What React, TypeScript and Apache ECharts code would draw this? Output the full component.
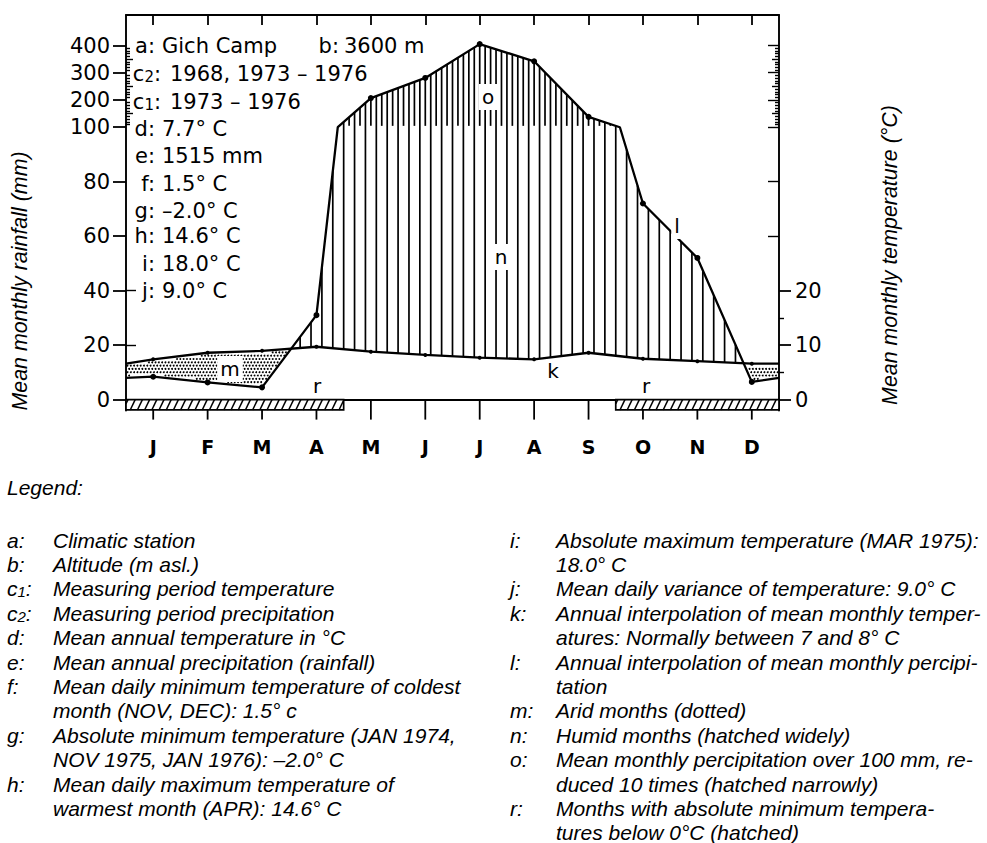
import React, { useEffect, useRef } from 'react';
import * as echarts from 'echarts';

// ---------- values ----------
const months = ['J', 'F', 'M', 'A', 'M', 'J', 'J', 'A', 'S', 'O', 'N', 'D'];
const rainfallMm = [8.4, 6.3, 4.5, 31, 207, 281, 405, 342, 138, 72, 52, 6.5];
const temperatureC = [7.4, 8.6, 8.95, 9.7, 8.8, 8.2, 7.7, 7.4, 8.6, 7.5, 7.05, 6.6];
const rainfallAtYearBoundaryMm = 8;
const temperatureAtYearBoundaryC = 6.6;
const frostMonths = [1, 1, 1, 1, 0, 0, 0, 0, 0, 1, 1, 1];
const rainfallTicksMm = [0, 20, 40, 60, 80, 100, 200, 300, 400];
const temperatureTicksC = [0, 10, 20];

const stationInfo = [
  { key: 'a', text: 'Gich Camp' },
  { key: 'c2', text: '1968, 1973 – 1976' },
  { key: 'c1', text: '1973 – 1976' },
  { key: 'd', text: '7.7° C' },
  { key: 'e', text: '1515 mm' },
  { key: 'f', text: '1.5° C' },
  { key: 'g', text: '–2.0° C' },
  { key: 'h', text: '14.6° C' },
  { key: 'i', text: '18.0° C' },
  { key: 'j', text: '9.0° C' },
];
const stationAltitude = { key: 'b', text: '3600 m' };

const legendLeft = [
  { key: 'a', lines: ['Climatic station'] },
  { key: 'b', lines: ['Altitude (m asl.)'] },
  { key: 'c1', lines: ['Measuring period temperature'] },
  { key: 'c2', lines: ['Measuring period precipitation'] },
  { key: 'd', lines: ['Mean annual temperature in °C'] },
  { key: 'e', lines: ['Mean annual precipitation (rainfall)'] },
  { key: 'f', lines: ['Mean daily minimum temperature of coldest', 'month (NOV, DEC): 1.5° c'] },
  { key: 'g', lines: ['Absolute minimum temperature (JAN 1974,', 'NOV 1975, JAN 1976): –2.0° C'] },
  { key: 'h', lines: ['Mean daily maximum temperature of', 'warmest month (APR): 14.6° C'] },
];
const legendRight = [
  { key: 'i', lines: ['Absolute maximum temperature (MAR 1975):', '18.0° C'] },
  { key: 'j', lines: ['Mean daily variance of temperature: 9.0° C'] },
  { key: 'k', lines: ['Annual interpolation of mean monthly temper-', 'atures: Normally between 7 and 8° C'] },
  { key: 'l', lines: ['Annual interpolation of mean monthly percipi-', 'tation'] },
  { key: 'm', lines: ['Arid months (dotted)'] },
  { key: 'n', lines: ['Humid months (hatched widely)'] },
  { key: 'o', lines: ['Mean monthly percipitation over 100 mm, re-', 'duced 10 times (hatched narrowly)'] },
  { key: 'r', lines: ['Months with absolute minimum tempera-', 'tures below 0°C (hatched)'] },
];

// ---------- scales ----------
// rainfall above 100 mm is drawn reduced 10 times; 10 °C corresponds to 20 mm
const rainScale = (mm: number) => (mm <= 100 ? mm : 100 + (mm - 100) / 10);
const rainUnscale = (v: number) => (v <= 100 ? v : 100 + (v - 100) * 10);
const tempScale = (c: number) => c * 2;

const X_MIN = 0;
const X_MAX = 12;
const Y_MIN = -4;
const Y_MAX = 141.2;

const CHART_FONT = '"DejaVu Sans", sans-serif';
const LEGEND_FONT = '"Liberation Sans", Arial, sans-serif';

const monthCenters = months.map((_, i) => i + 0.5);

const tempPoints: number[][] = [
  [X_MIN, tempScale(temperatureAtYearBoundaryC)],
  ...monthCenters.map((x, i) => [x, tempScale(temperatureC[i])]),
  [X_MAX, tempScale(temperatureAtYearBoundaryC)],
];
const rainMmPoints: number[][] = [
  [X_MIN, rainfallAtYearBoundaryMm],
  ...monthCenters.map((x, i) => [x, rainfallMm[i]]),
  [X_MAX, rainfallAtYearBoundaryMm],
];
// display polyline of rainfall: the line bends where it crosses 100 mm (scale change)
const rainPoints: number[][] = [];
const rainIsMonth: boolean[] = [];
rainMmPoints.forEach((p, i) => {
  if (i > 0) {
    const q = rainMmPoints[i - 1];
    if ((q[1] - 100) * (p[1] - 100) < 0) {
      const xc = q[0] + ((p[0] - q[0]) * (100 - q[1])) / (p[1] - q[1]);
      rainPoints.push([xc, 100]);
      rainIsMonth.push(false);
    }
  }
  rainPoints.push([p[0], rainScale(p[1])]);
  rainIsMonth.push(i > 0 && i < rainMmPoints.length - 1);
});

function interp(pts: number[][], x: number) {
  for (let i = 0; i < pts.length - 1; i++) {
    const [x0, y0] = pts[i];
    const [x1, y1] = pts[i + 1];
    if (x >= x0 && x <= x1) return y0 + ((y1 - y0) * (x - x0)) / (x1 - x0);
  }
  return pts[pts.length - 1][1];
}
const rainAt = (x: number) => interp(rainPoints, x);
const tempAt = (x: number) => interp(tempPoints, x);

const frostRuns: number[][] = [];
{
  let start = -1;
  frostMonths.forEach((f, i) => {
    if (f && start < 0) start = i;
    if (!f && start >= 0) {
      frostRuns.push([start, i]);
      start = -1;
    }
  });
  if (start >= 0) frostRuns.push([start, months.length]);
}

// ---------- render helpers ----------
function renderFills(params: any, api: any) {
  const children: any[] = [];
  const hatchStyle = { stroke: '#000', lineWidth: 1.7 };
  // vertical hatching: wide (humid) every 0.2 month, narrow (>100 mm) every 0.1 month
  for (let k = 1; k < 120; k++) {
    const x = k * 0.1;
    const r = rainAt(x);
    const t = tempAt(x);
    if (k % 2 === 0) {
      if (r > t) {
        const p1 = api.coord([x, t]);
        const p2 = api.coord([x, r]);
        children.push({ type: 'line', shape: { x1: p1[0], y1: p1[1], x2: p2[0], y2: p2[1] }, style: hatchStyle });
      }
    } else if (r > 100.5) {
      const p1 = api.coord([x, 100.5]);
      const p2 = api.coord([x, r]);
      children.push({ type: 'line', shape: { x1: p1[0], y1: p1[1], x2: p2[0], y2: p2[1] }, style: hatchStyle });
    }
  }
  // dots for arid months
  const o = api.coord([X_MIN, 0]);
  const e = api.coord([X_MAX, 100]);
  const sx = (e[0] - o[0]) / (X_MAX - X_MIN);
  const sy = (e[1] - o[1]) / 100;
  const step = 3.3;
  let row = 0;
  for (let py = o[1] - 1; py > o[1] + 24 * sy; py -= step, row++) {
    const yv = (py - o[1]) / sy;
    for (let px = o[0] + 1.5 + (row % 2 ? step / 2 : 0); px < e[0] - 1; px += step) {
      const xv = (px - o[0]) / sx;
      const r = rainAt(xv);
      const t = tempAt(xv);
      if (r < t && yv > r + 0.8 && yv < t - 0.8) {
        children.push({ type: 'circle', shape: { cx: px, cy: py, r: 0.95 }, style: { fill: '#000' } });
      }
    }
  }
  return { type: 'group', children };
}

function renderFrost(params: any, api: any) {
  const s = api.value(0);
  const en = api.value(1);
  const tl = api.coord([s, 0]);
  const br = api.coord([en, -3.8]);
  const left = tl[0];
  const right = br[0];
  const top = tl[1];
  const bottom = br[1];
  const children: any[] = [
    { type: 'rect', shape: { x: left, y: top, width: right - left, height: bottom - top }, style: { fill: '#fff', stroke: '#000', lineWidth: 1.7 } },
  ];
  const slant = 5;
  const gap = 7.2;
  for (let xb = left - slant + 2; xb < right; xb += gap) {
    let x1 = xb;
    let y1 = bottom;
    let x2 = xb + slant;
    let y2 = top;
    if (x1 < left) {
      const t = (left - x1) / slant;
      x1 = left;
      y1 = bottom + (top - bottom) * t;
    }
    if (x2 > right) {
      const t = (x2 - right) / slant;
      x2 = right;
      y2 = top - (top - bottom) * t;
    }
    if (x2 <= x1) continue;
    children.push({ type: 'line', shape: { x1, y1, x2, y2 }, style: { stroke: '#000', lineWidth: 1.5 } });
  }
  return { type: 'group', children };
}

function renderMonthTick(params: any, api: any) {
  const p = api.coord([api.value(0), 0]);
  return {
    type: 'line',
    shape: { x1: p[0], y1: p[1], x2: p[0], y2: p[1] + 20 },
    style: { stroke: '#000', lineWidth: 1.8 },
  };
}

function keyRich(key: string, size: number, family: string, style: string, subSize: number) {
  const base = key.charAt(0);
  const sub = key.slice(1);
  return {
    text: sub ? `{b|${base}}{s|${sub}}{b|:}` : `{b|${base}:}`,
    rich: {
      b: { fontSize: size, fontFamily: family, fontStyle: style, fill: '#000', color: '#000' },
      s: { fontSize: subSize, fontFamily: family, fontStyle: style, fill: '#000', color: '#000', verticalAlign: 'bottom' },
    },
  };
}

function txt(x: number, y: number, text: string, style: any) {
  return {
    type: 'text',
    x,
    y,
    z: 100,
    style: {
      text,
      fill: '#000',
      align: style.align || 'left',
      textAlign: style.align || 'left',
      verticalAlign: 'middle',
      textVerticalAlign: 'middle',
      ...style,
    },
  };
}

function buildOption(): any {
  const graphic: any[] = [];

  // axis titles
  graphic.push({
    type: 'text', x: 20, y: 281, rotation: Math.PI / 2, z: 100,
    style: { text: 'Mean monthly rainfall (mm)', fill: '#000', fontSize: 21.4, fontStyle: 'italic', fontFamily: LEGEND_FONT, align: 'center', textAlign: 'center', verticalAlign: 'middle', textVerticalAlign: 'middle' },
  });
  graphic.push({
    type: 'text', x: 890, y: 255, rotation: Math.PI / 2, z: 100,
    style: { text: 'Mean monthly temperature (°C)', fill: '#000', fontSize: 21.4, fontStyle: 'italic', fontFamily: LEGEND_FONT, align: 'center', textAlign: 'center', verticalAlign: 'middle', textVerticalAlign: 'middle' },
  });

  // station info inside the chart
  const infoY = [46, 74, 102, 129, 156, 184, 211, 236, 264, 291];
  const keyText = (x: number, y: number, key: string) => {
    const k = keyRich(key, 21, CHART_FONT, 'normal', 15);
    graphic.push({
      type: 'text', x, y, z: 100,
      style: { ...k, fill: '#000', align: 'right', textAlign: 'right', verticalAlign: 'middle', textVerticalAlign: 'middle' },
    });
  };
  stationInfo.forEach((s, i) => {
    const isC = s.key.length > 1;
    keyText(isC ? 161 : 155, infoY[i], s.key);
    graphic.push(txt(isC ? 170 : 162, infoY[i], s.text, { fontSize: 21, fontFamily: CHART_FONT }));
  });
  keyText(339, infoY[0], stationAltitude.key);
  graphic.push(txt(344, infoY[0], stationAltitude.text, { fontSize: 21, fontFamily: CHART_FONT }));

  // letters in the diagram
  const letter = (x: number, y: number, t: string, bg: boolean) =>
    txt(x, y, t, {
      fontSize: 20, fontFamily: CHART_FONT, align: 'center', textAlign: 'center',
      ...(bg ? { backgroundColor: '#fff', padding: [3, 3, 3, 3] } : {}),
    });
  graphic.push(letter(488, 97, 'o', true));
  graphic.push(letter(501, 257, 'n', true));
  graphic.push(letter(677, 226, 'l', true));
  graphic.push(letter(553, 371, 'k', false));
  graphic.push(letter(230, 369, 'm', true));
  graphic.push(letter(317, 386, 'r', false));
  graphic.push(letter(646, 386, 'r', false));

  // legend
  const LF = { fontSize: 21, fontStyle: 'italic', fontFamily: LEGEND_FONT };
  const STEP = 24.4;
  graphic.push(txt(7, 487, 'Legend:', LF));
  const placeColumn = (entries: any[], kx: number, tx: number) => {
    let line = 0;
    entries.forEach((en) => {
      const y0 = 540 + line * STEP;
      const k = keyRich(en.key, 21, LEGEND_FONT, 'italic', 15);
      graphic.push({
        type: 'text', x: kx, y: y0, z: 100,
        style: { ...k, fill: '#000', align: 'left', textAlign: 'left', verticalAlign: 'middle', textVerticalAlign: 'middle' },
      });
      en.lines.forEach((l: string, j: number) => {
        graphic.push(txt(tx, 540 + (line + j) * STEP, l, LF));
      });
      line += en.lines.length;
    });
  };
  placeColumn(legendLeft, 7, 53);
  placeColumn(legendRight, 510, 556);

  const lineBlack = { color: '#000', width: 1.9 };
  const minorMm: number[] = [];
  const midMm: number[] = [];
  for (let mm = 110; mm <= 400; mm += 10) {
    if (mm % 100 === 0) continue;
    if (mm % 50 === 0) midMm.push(rainScale(mm));
    else minorMm.push(rainScale(mm));
  }
  const hundreds = [100, 200, 300, 400].map(rainScale);

  const yBase = (position: string, extra: any) => ({
    type: 'value', min: Y_MIN, max: Y_MAX, position,
    splitLine: { show: false },
    axisLine: { show: false, onZero: false },
    axisLabel: { show: false },
    ...extra,
  });
  const tickAxis = (position: string, values: number[], length: number, inside: boolean) =>
    yBase(position, {
      axisTick: { show: true, inside, length, customValues: values, lineStyle: { color: '#000', width: 1.4 } },
    });

  const rainTickDisplay = rainfallTicksMm.map(rainScale);
  const tempTickDisplay = temperatureTicksC.map(tempScale);

  const yAxis = [
    yBase('left', {
      axisLine: { show: true, onZero: false, lineStyle: lineBlack },
      axisTick: { show: true, inside: false, length: 13, customValues: rainTickDisplay, lineStyle: { color: '#000', width: 1.8 } },
      axisLabel: {
        show: true, customValues: rainTickDisplay, margin: 16,
        formatter: (v: number) => String(Math.round(rainUnscale(v))),
        fontFamily: CHART_FONT, fontSize: 21, color: '#000',
      },
    }),
    tickAxis('left', [20, 40], 10, true),
    tickAxis('left', minorMm, 4, true),
    tickAxis('left', midMm, 7, true),
    yBase('right', {
      axisLine: { show: true, onZero: false, lineStyle: lineBlack },
      axisTick: { show: true, inside: false, length: 12, customValues: tempTickDisplay, lineStyle: { color: '#000', width: 1.8 } },
      axisLabel: {
        show: true, customValues: tempTickDisplay, margin: 16,
        formatter: (v: number) => String(Math.round(v / 2)),
        fontFamily: CHART_FONT, fontSize: 21, color: '#000',
      },
    }),
    tickAxis('right', [tempScale(5), tempScale(15)], 5, false),
    tickAxis('right', [60, 80, ...hundreds], 11, true),
    tickAxis('right', minorMm, 4, true),
    tickAxis('right', midMm, 7, true),
  ];

  const xAxis = [
    {
      type: 'value', min: X_MIN, max: X_MAX, position: 'bottom',
      splitLine: { show: false },
      axisLine: { show: true, onZero: true, onZeroAxisIndex: 0, lineStyle: lineBlack },
      axisTick: { show: false },
      axisLabel: {
        show: true, customValues: monthCenters, margin: 27,
        formatter: (v: number) => months[Math.round(v - 0.5)],
        fontFamily: CHART_FONT, fontWeight: 'bold', fontSize: 19, color: '#000',
      },
    },
    {
      type: 'value', min: X_MIN, max: X_MAX, position: 'top',
      splitLine: { show: false },
      axisLine: { show: true, onZero: false, lineStyle: lineBlack },
      axisTick: { show: true, inside: true, length: 10, customValues: monthCenters, lineStyle: { color: '#000', width: 1.8 } },
      axisLabel: { show: false },
    },
  ];

  return {
    animation: false,
    backgroundColor: '#fff',
    grid: { left: 126, top: 15, width: 653, height: 395.5, containLabel: false, outerBoundsMode: 'none' },
    xAxis,
    yAxis,
    graphic,
    series: [
      { type: 'custom', name: 'areas', renderItem: renderFills, data: [[0, 0]], z: 2, silent: true, clip: false },
      { type: 'custom', name: 'month ticks', renderItem: renderMonthTick, data: monthCenters.map((x) => [x, 0]), z: 2, silent: true, clip: false },
      { type: 'custom', name: 'frost', renderItem: renderFrost, data: frostRuns, z: 3, silent: true, clip: false },
      {
        type: 'line', name: 'temperature', z: 5, silent: true,
        data: tempPoints.map((p, i) => (i === 0 || i === tempPoints.length - 1 ? { value: p, symbol: 'none' } : p)),
        symbol: 'circle', symbolSize: 4,
        itemStyle: { color: '#000' },
        lineStyle: { color: '#000', width: 2.3 },
      },
      {
        type: 'line', name: 'rainfall', z: 6, silent: true,
        data: rainPoints.map((p, i) => (rainIsMonth[i] ? p : { value: p, symbol: 'none' })),
        symbol: 'circle', symbolSize: 6,
        itemStyle: { color: '#000' },
        lineStyle: { color: '#000', width: 2.3 },
      },
    ],
  };
}

export default function App() {
  const ref = useRef<HTMLDivElement>(null);
  useEffect(() => {
    if (!ref.current) return;
    const chart = echarts.init(ref.current, null, { renderer: 'svg' });
    chart.setOption(buildOption());
    return () => chart.dispose();
  }, []);
  return (
    <div
      ref={ref}
      style={{ position: 'absolute', left: 0, top: 0, width: 987, height: 843, background: '#fff' }}
    />
  );
}
